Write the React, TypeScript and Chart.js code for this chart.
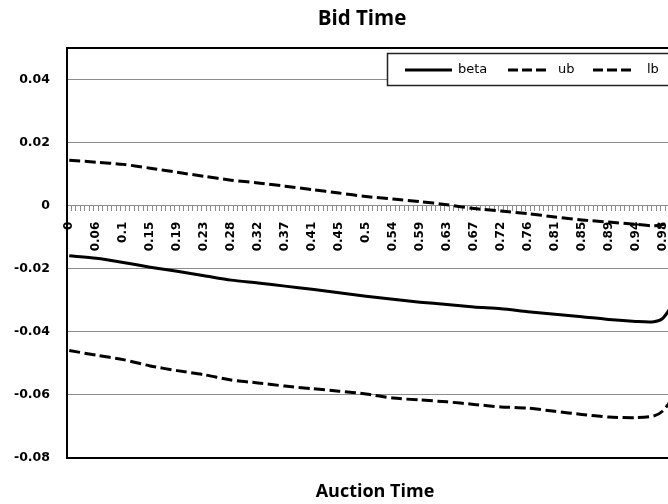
import React, { useEffect, useRef } from "react";
import { Chart, registerables } from "chart.js";

Chart.register(...registerables);

// ---- data ----
const tickLabels = ["0", "0.06", "0.1", "0.15", "0.19", "0.23", "0.28", "0.32", "0.37", "0.41", "0.45", "0.5", "0.54", "0.59", "0.63", "0.67", "0.72", "0.76", "0.81", "0.85", "0.89", "0.94", "0.98"];
const categoryCount = 137;
const labelEvery = 6;
const sampleIdx = [0, 6, 12, 18, 24, 30, 36, 42, 48, 54, 60, 66, 72, 78, 84, 90, 96, 102, 108, 114, 120, 126, 130, 132, 134];
const betaVals = [-0.0159, -0.0167, -0.018, -0.0195, -0.0208, -0.0222, -0.0236, -0.0245, -0.0255, -0.0265, -0.0276, -0.0287, -0.0297, -0.0306, -0.0313, -0.0321, -0.0327, -0.0336, -0.0344, -0.0352, -0.0361, -0.0367, -0.0368, -0.0357, -0.0318];
const ubVals = [0.0144, 0.0138, 0.0131, 0.0119, 0.0106, 0.0093, 0.0081, 0.0072, 0.0062, 0.0051, 0.004, 0.0029, 0.0021, 0.0013, 0.0003, -0.0009, -0.0017, -0.0025, -0.0036, -0.0045, -0.0052, -0.0059, -0.0064, -0.006, -0.0048];
const lbVals = [-0.0459, -0.0474, -0.0488, -0.0508, -0.0523, -0.0536, -0.0553, -0.0562, -0.0572, -0.058, -0.0588, -0.0597, -0.061, -0.0616, -0.0622, -0.063, -0.0638, -0.0642, -0.0652, -0.0662, -0.067, -0.0672, -0.0667, -0.0651, -0.0615];
const yMin = -0.08;
const yMax = 0.05;
const yStep = 0.02;
const yTopTick = 0.04;

const categories = Array.from({ length: categoryCount }, (_, i) =>
  i % labelEvery === 0 && tickLabels[i / labelEvery] !== undefined ? tickLabels[i / labelEvery] : ""
);
const toSeries = (vals: number[]) => {
  const arr: (number | null)[] = new Array(categoryCount).fill(null);
  sampleIdx.forEach((k, j) => (arr[k] = vals[j]));
  return arr;
};

const framePlugin = {
  id: "frame",
  beforeDatasetsDraw(chart: any) {
    const { ctx, chartArea: a } = chart;
    ctx.save();
    ctx.strokeStyle = "#000";
    ctx.lineWidth = 2;
    ctx.strokeRect(a.left, a.top, a.right - a.left, a.bottom - a.top);
    ctx.restore();
  },
};

const legendPlugin = {
  id: "customLegend",
  afterDraw(chart: any) {
    const { ctx } = chart;
    ctx.save();
    ctx.fillStyle = "#fff";
    ctx.fillRect(387, 53, 320, 33);
    ctx.strokeStyle = "#222";
    ctx.lineWidth = 1.5;
    ctx.strokeRect(387.5, 53.5, 320, 32);
    const sx = [405, 508, 593];
    const sl = [47, 38, 38];
    const tx = [458, 558, 647];
    const y = 70;
    chart.data.datasets.forEach((ds: any, i: number) => {
      ctx.beginPath();
      ctx.strokeStyle = ds.borderColor;
      ctx.lineWidth = 3;
      ctx.setLineDash(ds.borderDash && ds.borderDash.length ? [10, 4] : []);
      ctx.moveTo(sx[i], y);
      ctx.lineTo(sx[i] + sl[i], y);
      ctx.stroke();
      ctx.setLineDash([]);
      ctx.fillStyle = "#000";
      ctx.font = "13px 'DejaVu Sans'";
      ctx.textBaseline = "middle";
      ctx.textAlign = "left";
      ctx.fillText(ds.label, tx[i], y);
    });
    ctx.restore();
  },
};

export default function App() {
  const ref = useRef<HTMLCanvasElement>(null);
  useEffect(() => {
    if (!ref.current) return;
    const chart = new Chart(ref.current, {
      type: "line",
      data: {
        labels: categories,
        datasets: [
          { label: "beta", data: toSeries(betaVals), borderColor: "#000", borderWidth: 3, pointRadius: 0, spanGaps: true, tension: 0.25, fill: false, borderDash: [] },
          { label: "ub", data: toSeries(ubVals), borderColor: "#000", borderWidth: 3, pointRadius: 0, spanGaps: true, tension: 0.25, fill: false, borderDash: [11, 4.5] },
          { label: "lb", data: toSeries(lbVals), borderColor: "#000", borderWidth: 3, pointRadius: 0, spanGaps: true, tension: 0.25, fill: false, borderDash: [11, 4.5] },
        ],
      },
      options: {
        responsive: false,
        animation: false,
        layout: { padding: 0 },
        plugins: {
          legend: { display: false },
          tooltip: { enabled: false },
          title: {
            display: true,
            text: "Bid Time",
            color: "#000",
            font: { family: "'Open Sans'", size: 20.5, weight: "bold", lineHeight: 1.2 },
            padding: { top: 7, bottom: 16.4 },
          },
        },
        scales: {
          x: {
            type: "category",
            position: { y: 0 } as any,
            offset: true,
            grid: { offset: true, drawOnChartArea: false, drawTicks: true, tickLength: 5, color: "#8c8c8c", lineWidth: 1 },
            border: { display: true, color: "#8c8c8c", width: 1 },
            ticks: {
              autoSkip: false,
              minRotation: 90,
              maxRotation: 90,
              padding: 11,
              color: "#000",
              font: { family: "'DejaVu Sans'", size: 12, weight: "bold" },
            },
          },
          x2: {
            type: "category",
            position: "bottom",
            grid: { display: false },
            border: { display: false },
            ticks: { display: false },
            title: {
              display: true,
              text: "Auction Time",
              color: "#000",
              font: { family: "'Open Sans'", size: 18, weight: "bold", lineHeight: 1.2 },
              padding: { top: 20, bottom: 1 },
            },
            afterFit: (s: any) => {
              s.height = 46;
            },
          },
          y: {
            min: yMin,
            max: yMax,
            grid: { color: "#8c8c8c", lineWidth: 1, drawTicks: false },
            border: { display: false },
            ticks: {
              stepSize: yStep,
              padding: 17,
              color: "#000",
              font: { family: "'DejaVu Sans'", size: 12.5, weight: "bold" },
              callback: (v: any) => (Math.abs(v) < 1e-9 ? "0" : Number(v).toFixed(2)),
            },
            afterBuildTicks: (s: any) => {
              s.ticks = s.ticks.filter((t: any) => t.value <= yTopTick + 1e-9);
            },
            afterFit: (s: any) => {
              s.width = 67;
            },
          },
          yR: {
            type: "linear",
            position: "right",
            grid: { display: false },
            border: { display: false },
            ticks: { display: false },
            afterFit: (s: any) => {
              s.width = 41;
            },
          },
        },
      } as any,
      plugins: [framePlugin, legendPlugin],
    });
    return () => chart.destroy();
  }, []);
  return (
    <div style={{ position: "fixed", left: 0, top: 0, width: 668, height: 504, overflow: "hidden", background: "#fff" }}>
      <canvas ref={ref} width={724} height={504} style={{ display: "block" }} />
    </div>
  );
}
